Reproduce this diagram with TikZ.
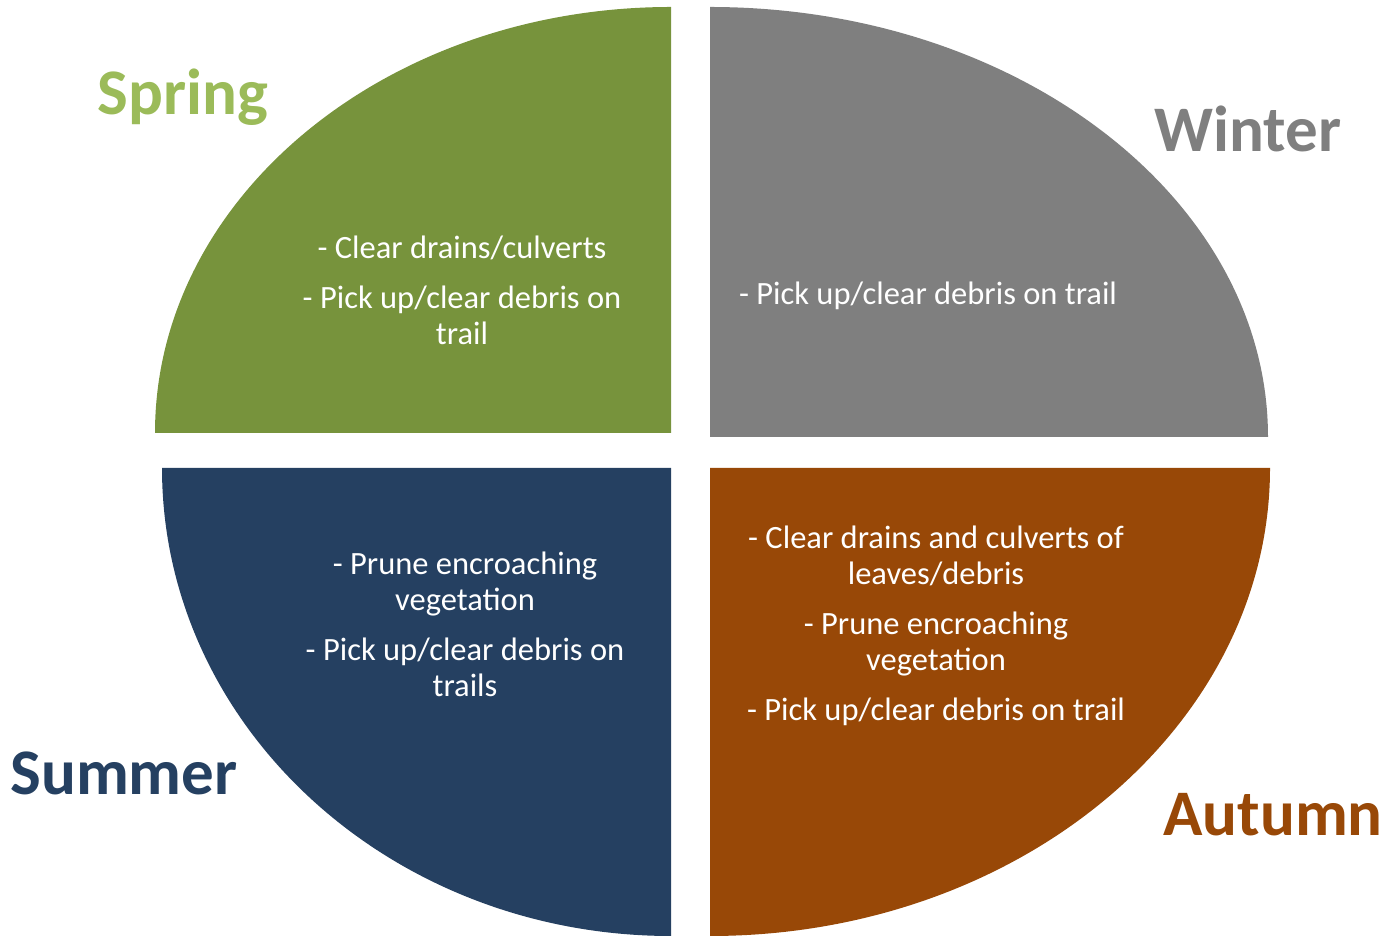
\documentclass[tikz,border=0pt]{standalone}
\usepackage{fontspec}
\setmainfont{Carlito}
\usepackage{tikz}

\definecolor{springgreen}{HTML}{77933C}
\definecolor{springlabel}{HTML}{9BBB59}
\definecolor{wintergray}{HTML}{7F7F7F}
\definecolor{summerblue}{HTML}{254061}
\definecolor{autumnbrown}{HTML}{984807}

\begin{document}
\begin{tikzpicture}[x=1pt, y=1pt,
        task/.style={text=white, align=center, inner sep=0pt,
                     font=\fontsize{32.5}{36}\selectfont},
        season/.style={anchor=base, inner sep=0pt,
                       font=\fontsize{65}{70}\selectfont\bfseries}]
        \useasboundingbox (0,0) rectangle (1400,936);

        % quarters
        \fill[springgreen] (671,503) -- (155,503)
              arc[start angle=180, end angle=90, x radius=516, y radius=426] -- cycle;
        \fill[wintergray] (710,499) -- (710,929)
              arc[start angle=90, end angle=0, x radius=558, y radius=430] -- cycle;
        \fill[summerblue] (671,468) -- (162,468)
              arc[start angle=180, end angle=270, x radius=509, y radius=468] -- cycle;
        \fill[autumnbrown] (710,468) -- (710,0)
              arc[start angle=270, end angle=360, x radius=560, y radius=468] -- cycle;

        % tasks
        \node[task] (springtxt) at (462, 646) {- Clear drains/culverts\\[14pt]
              - Pick up/clear debris on\\ trail};
        \node[task] (wintertxt) at (928, 640) {- Pick up/clear debris on trail};
        \node[task] (summertxt) at (465, 312) {- Prune encroaching\\ vegetation\\[14pt]
              - Pick up/clear debris on\\ trails};
        \node[task] (autumntxt) at (936, 310) {- Clear drains and culverts of\\ leaves/debris\\[14pt]
              - Prune encroaching\\ vegetation\\[14pt]
              - Pick up/clear debris on trail};

        % season names
        \node[season, text=springlabel] (spring) at (183, 821) {Spring};
        \node[season, text=wintergray] (winter) at (1248, 784) {Winter};
        \node[season, text=summerblue] (summer) at (124, 141) {Summer};
        \node[season, text=autumnbrown] (autumn) at (1273, 100) {Autumn};
\end{tikzpicture}
\end{document}
